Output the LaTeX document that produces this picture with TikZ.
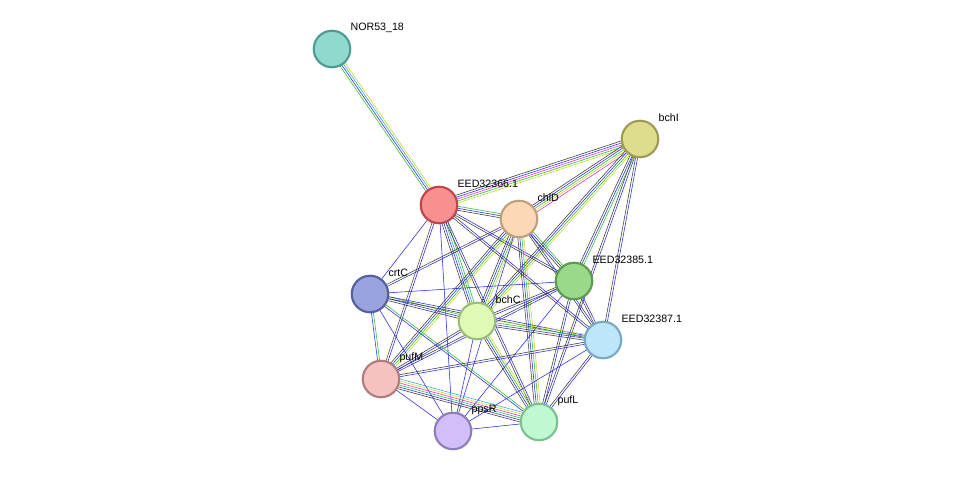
\documentclass[tikz,border=0pt]{standalone}
\usepackage{fontspec}
\setmainfont{Liberation Sans}
\usetikzlibrary{calc}
\pgfdeclarelayer{bg}\pgfsetlayers{bg,main}
\definecolor{ek}{HTML}{333333}
\definecolor{eb}{HTML}{2222EE}
\definecolor{eg}{HTML}{22BB22}
\definecolor{ey}{HTML}{C8D020}
\definecolor{em}{HTML}{DD22DD}
\definecolor{ec}{HTML}{22AACC}
\newcommand{\myedge}[3]{%
 \foreach \c [count=\i] in {#3}{\xdef\mycnt{\i}}%
 \foreach \c [count=\i] in {#3}{%
  \pgfmathsetmacro{\off}{(\i-(\mycnt+1)/2)*1.5}%
  \draw[\c] ($(#1)!\off pt!90:(#2)$) -- ($(#2)!\off pt!-90:(#1)$);}}
\newlength{\px}\setlength{\px}{0.75pt}
\tikzset{
 prot/.style={circle,minimum size=36.5\px,inner sep=0pt,line width=1.6pt},
 lab/.style={font=\fontsize{8}{9}\selectfont,anchor=west,inner sep=0pt},
}
\begin{document}
\begin{tikzpicture}[x=0.75pt,y=-0.75pt,line width=0.85pt]
\useasboundingbox (0,0) rectangle (976,477);
\def\prot#1#2#3#4#5#6{\definecolor{f#1}{HTML}{#4}\definecolor{d#1}{HTML}{#5}%
 \node[prot,fill=f#1,draw=d#1] (#1) at (#2,#3) {}; \node[lab] (#1t) at (#2+18,#3-21) {#6};}
\prot{N}{332}{49}{8FD9CF}{4E9A93}{NOR53\_18}
\prot{I}{640}{139}{DEDD8E}{9E9A54}{bchI}
\prot{E}{439}{205}{F99090}{C0444A}{EED32366.1}
\prot{C}{519}{219}{FCD9B5}{C09F7E}{chlD}
\prot{K}{574}{281}{9AD98A}{5A9B4F}{EED32385.1}
\prot{R}{370}{294}{99A3DE}{555F9D}{crtC}
\prot{B}{477}{321}{E0FBB5}{9BBF7A}{bchC}
\prot{L}{603}{340}{BDE6FB}{7AA7C4}{EED32387.1}
\prot{M}{381}{379}{F6C1C1}{B07C7C}{pufM}
\prot{P}{453}{431}{D2BFF9}{8E7DB6}{ppsR}
\prot{F}{539}{422}{BFF8D1}{7AC28D}{pufL}
\begin{pgfonlayer}{bg}
\myedge{N}{E}{eg,eb,ec,ey}
\myedge{I}{E}{ek,eb,em,eg,ey}
\myedge{I}{C}{ek,eb,eg,ey,em}
\myedge{I}{K}{ek,eb,eg}
\myedge{I}{L}{ek,eb}
\myedge{I}{B}{ek,eb,eg,ey}
\myedge{I}{F}{ek,eb}
\myedge{E}{C}{ek,eb,eg}
\myedge{E}{K}{ek,eb}
\myedge{E}{L}{ek,eb}
\myedge{E}{R}{eb}
\myedge{E}{B}{ek,eb,ec,eg}
\myedge{E}{M}{ek,eb}
\myedge{E}{P}{eb}
\myedge{E}{F}{ek,eb}
\myedge{C}{K}{ek,eb,eg}
\myedge{C}{L}{ek,eb}
\myedge{C}{R}{ek,eb}
\myedge{C}{B}{ek,eb,eg,ey}
\myedge{C}{M}{ek,eb,eg,ey}
\myedge{C}{P}{eb}
\myedge{C}{F}{ek,eb,eg,ey}
\myedge{K}{R}{eb}
\myedge{K}{B}{ek,eb}
\myedge{K}{L}{ek,eb}
\myedge{K}{M}{ek,eb}
\myedge{K}{F}{ek,eb}
\myedge{K}{P}{eb}
\myedge{R}{B}{ek,eb,eg}
\myedge{R}{L}{ek,eb}
\myedge{R}{M}{eb,eg}
\myedge{R}{P}{eb}
\myedge{R}{F}{eb,eg}
\myedge{B}{L}{ek,eb,eg,ey}
\myedge{B}{M}{ek,eb}
\myedge{B}{P}{eb}
\myedge{B}{F}{ek,eb,eg,ey}
\myedge{L}{M}{ek,eb}
\myedge{L}{P}{eb}
\myedge{L}{F}{ek,eb}
\myedge{M}{P}{eb}
\myedge{M}{F}{ek,eb,eg,em,ey,ec}
\myedge{P}{F}{eb}
\end{pgfonlayer}
\end{tikzpicture}
\end{document}
